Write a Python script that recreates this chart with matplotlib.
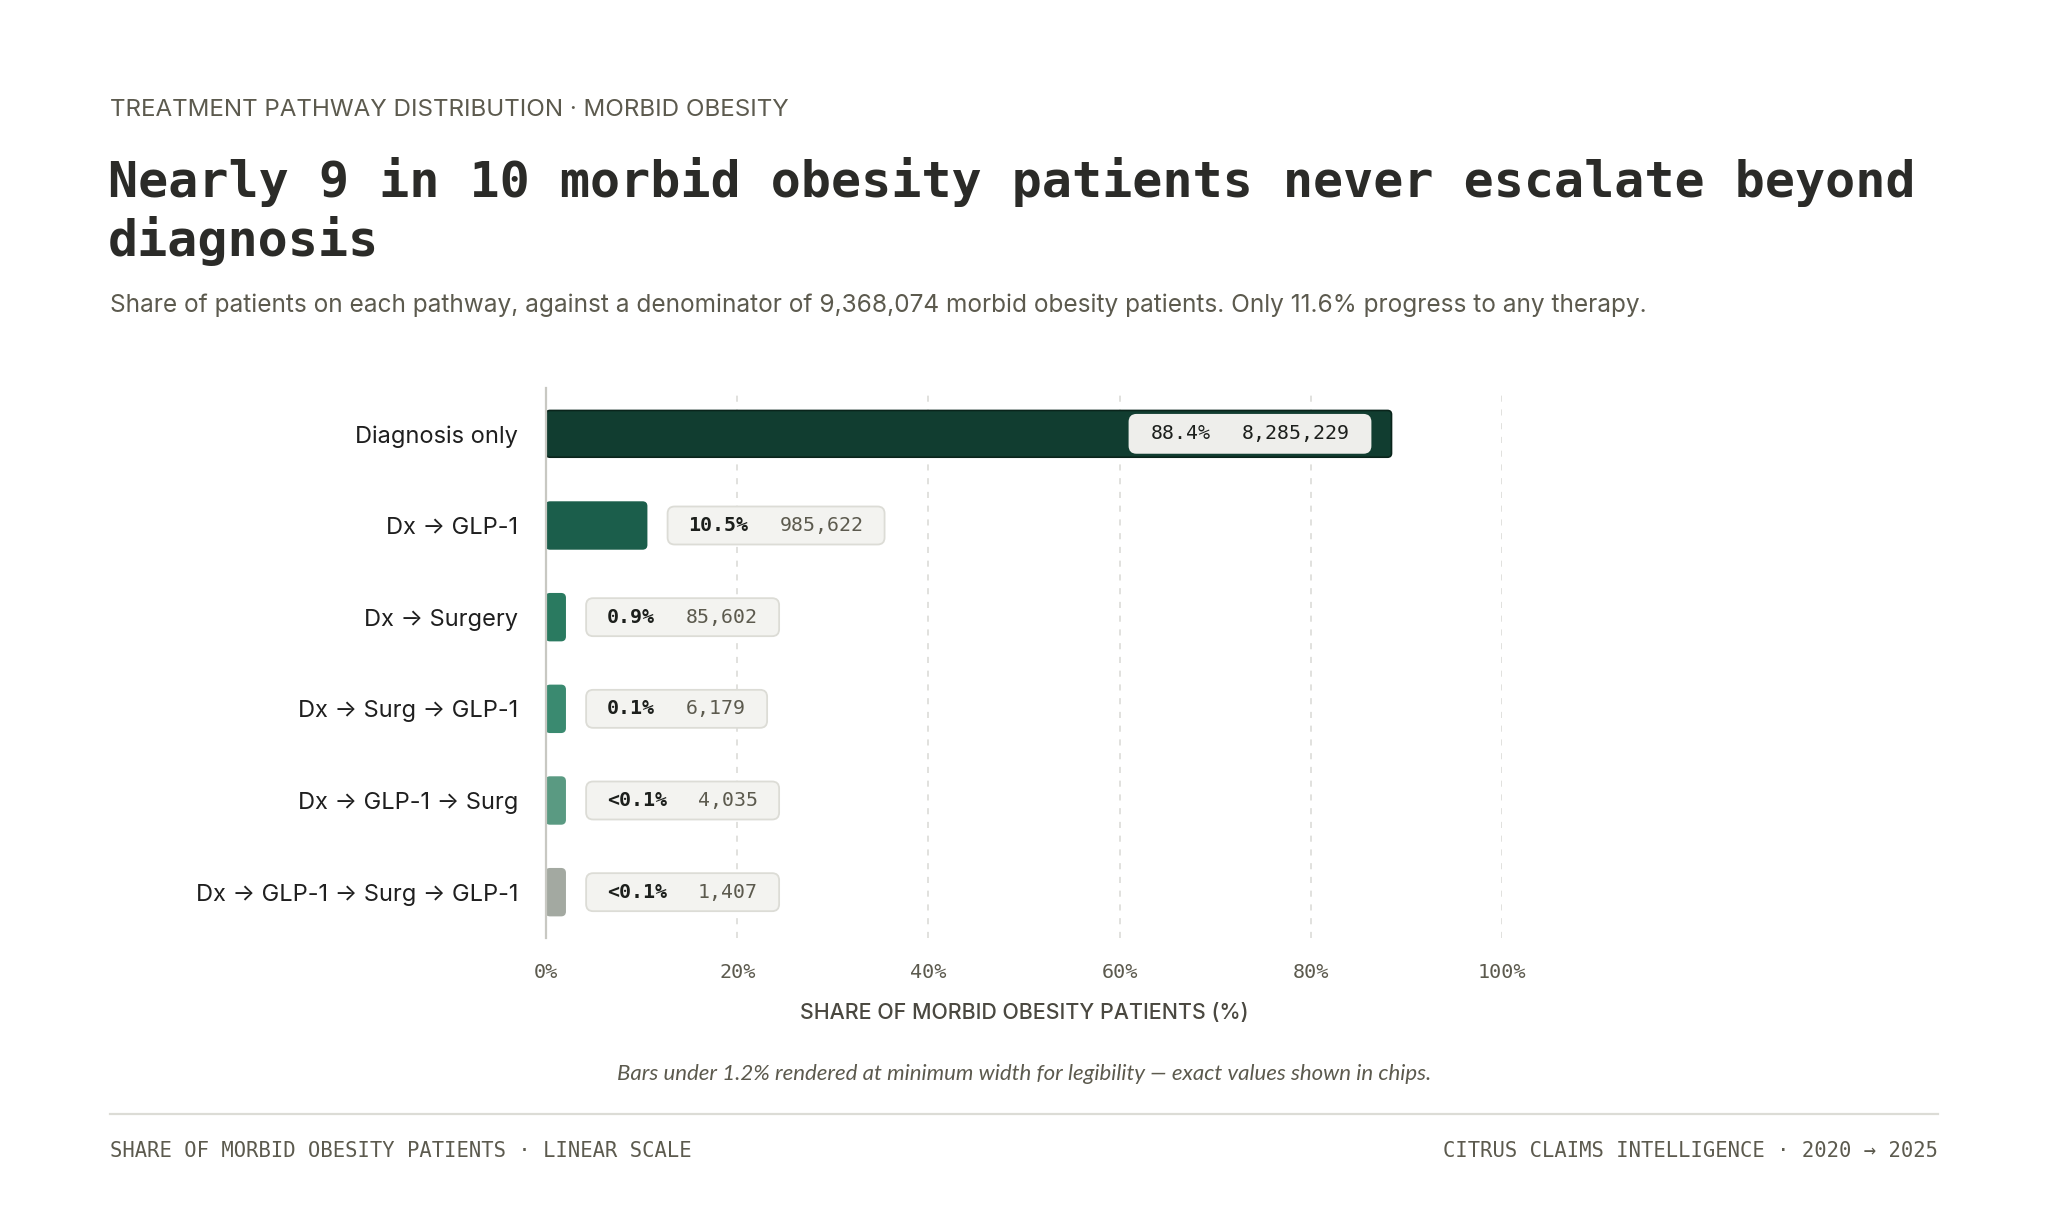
import matplotlib
matplotlib.use("Agg")
import matplotlib.pyplot as plt
from matplotlib.patches import FancyBboxPatch
from matplotlib.transforms import IdentityTransform
from matplotlib.lines import Line2D

# data
pathways = ['Diagnosis only', 'Dx → GLP-1', 'Dx → Surgery', 'Dx → Surg → GLP-1',
            'Dx → GLP-1 → Surg', 'Dx → GLP-1 → Surg → GLP-1']
patients = [8285229, 985622, 85602, 6179, 4035, 1407]
share_labels = ['88.4%', '10.5%', '0.9%', '0.1%', '<0.1%', '<0.1%']
denominator = 9368074
x_ticks = [0, 20, 40, 60, 80, 100]

bar_colors = ['#113d30', '#1b5e4b', '#2a7a60', '#3a8a70', '#5a9a82', '#a3a9a1']
MIN_W = 2.0  # minimum drawn width (percent units) for tiny bars

SANS = ['Inter', 'DejaVu Sans']
MONO = ['DejaVu Sans Mono']
INK = '#2b2b28'
MUTED = '#5c5a4e'

shares = [p / denominator * 100 for p in patients]
drawn = [max(s, MIN_W) for s in shares]

fig = plt.figure(figsize=(20.48, 12.29), dpi=100)
fig.patch.set_facecolor('white')
W, H = 2048, 1229


def fx(px):
    return px / W


def fy(py):
    return 1 - py / H


# header
fig.text(fx(110), fy(110), 'TREATMENT PATHWAY DISTRIBUTION · MORBID OBESITY',
         family=SANS, fontsize=17.4, color=MUTED, va='center', ha='left')
fig.text(fx(108), fy(157), 'Nearly 9 in 10 morbid obesity patients never escalate beyond\ndiagnosis',
         family=MONO, fontsize=36, fontweight='bold', color=INK, va='top', ha='left',
         linespacing=1.22)
fig.text(fx(110), fy(305),
         'Share of patients on each pathway, against a denominator of 9,368,074 morbid obesity '
         'patients. Only 11.6% progress to any therapy.',
         family=SANS, fontsize=17.6, color=MUTED, va='center', ha='left')

# chart
top, bottom, left, right = 388, 938, 546, 1502
ax = fig.add_axes([fx(left), fy(bottom), fx(right - left), (bottom - top) / H])
ax.set_xlim(0, 100)
ax.set_ylim(len(pathways) - 0.5, -0.5)
bar_h = 0.51
x_px = ax.bbox.width / 100
y_px = ax.bbox.height / len(pathways)
for i, (w, c) in enumerate(zip(drawn, bar_colors)):
    ec = '#0a241b' if i == 0 else c
    ax.add_patch(FancyBboxPatch((0, i - bar_h / 2), w, bar_h,
                                boxstyle='round,pad=0,rounding_size=%f' % (4 / x_px),
                                mutation_aspect=x_px / y_px,
                                facecolor=c, edgecolor=ec, linewidth=1.2, zorder=2))

ax.set_yticks(range(len(pathways)))
ax.set_yticklabels(pathways, family=SANS, fontsize=17, color='#1f1f1f')
ax.set_xticks(x_ticks)
ax.set_xticklabels(['%d%%' % t for t in x_ticks], family=MONO, fontsize=14.5, color=MUTED)
ax.tick_params(axis='y', length=0, pad=20)
ax.tick_params(axis='x', length=0, pad=18)
ax.grid(axis='x', color='#d9d9d4', linestyle=(0, (4, 5)), linewidth=1.1)
ax.set_axisbelow(True)
for s in ['top', 'right', 'bottom']:
    ax.spines[s].set_visible(False)
ax.spines['left'].set_color('#c8c8c2')
ax.spines['left'].set_linewidth(1.6)
ax.spines['left'].set_zorder(3)
ax.set_xlabel('SHARE OF MORBID OBESITY PATIENTS (%)', family=SANS, fontsize=15.4,
              fontweight='medium', color='#4a4840', va='center')
ax.xaxis.set_label_coords(0.5, -(1013 - bottom) / (bottom - top))

# value chips
fig.canvas.draw()
renderer = fig.canvas.get_renderer()
pad, gap, chip_h = 21, 31, 38
for i, (w, lab, n) in enumerate(zip(drawn, share_labels, patients)):
    end_x, cy = ax.transData.transform((w, i))
    inside = i == 0
    t1 = ax.text(0, cy, lab, transform=IdentityTransform(), family=MONO, fontsize=14.3,
                 fontweight='bold' if not inside else 'normal', color='#1c1f1c',
                 va='center', ha='left', zorder=5)
    t2 = ax.text(0, cy, f'{n:,}', transform=IdentityTransform(), family=MONO, fontsize=14.3,
                 color='#1c1f1c' if inside else MUTED, va='center', ha='left', zorder=5)
    w1 = t1.get_window_extent(renderer).width
    w2 = t2.get_window_extent(renderer).width
    chip_w = pad + w1 + gap + w2 + pad
    x0 = end_x - 21 - chip_w if inside else end_x + 21
    t1.set_x(x0 + pad)
    t2.set_x(x0 + pad + w1 + gap)
    ax.add_patch(FancyBboxPatch((x0, cy - chip_h / 2), chip_w, chip_h,
                                boxstyle='round,pad=0,rounding_size=7',
                                transform=IdentityTransform(), clip_on=False,
                                facecolor='#eeeeeb' if inside else '#f3f3f0',
                                edgecolor='#eeeeeb' if inside else '#dcdcd6',
                                linewidth=1.3, zorder=4))

# footnote and footer
fig.text(fx(1024), fy(1074),
         'Bars under 1.2% rendered at minimum width for legibility — exact values shown in chips.',
         family=['Lato', 'DejaVu Sans'], fontstyle='italic', fontsize=16,
         color=MUTED, ha='center', va='center')
fig.add_artist(Line2D([fx(110), fx(1938)], [fy(1114), fy(1114)], color='#dcdcd6', linewidth=1.6))
fig.text(fx(110), fy(1151), 'SHARE OF MORBID OBESITY PATIENTS · LINEAR SCALE',
         family=MONO, fontsize=14.8, color=MUTED, ha='left', va='center')
fig.text(fx(1938), fy(1151), 'CITRUS CLAIMS INTELLIGENCE · 2020 → 2025',
         family=MONO, fontsize=14.8, color=MUTED, ha='right', va='center')

fig.savefig('out.png', dpi=100, facecolor='white')
